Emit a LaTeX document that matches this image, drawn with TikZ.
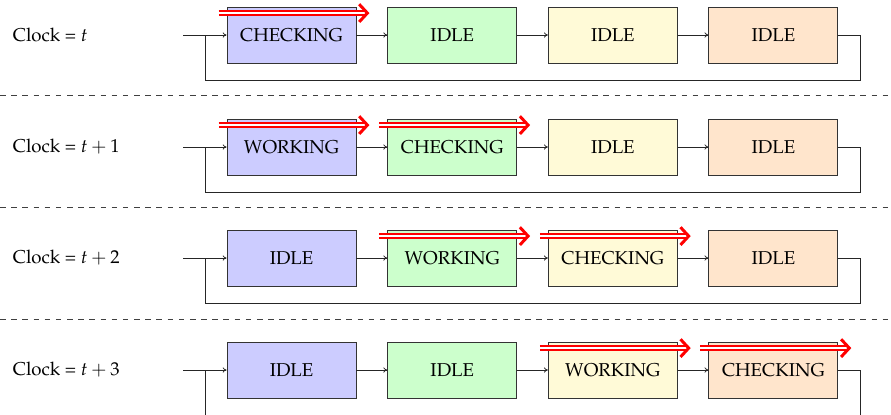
\documentclass[tikz,border=0pt]{standalone}
\usepackage[T1]{fontenc}
\usepackage{mathpazo}
\usetikzlibrary{arrows.meta}

% one unit of the drawing grid
\def\pxu{0.537pt}

\definecolor{stageA}{RGB}{204,204,255}
\definecolor{stageB}{RGB}{204,255,204}
\definecolor{stageC}{RGB}{255,250,215}
\definecolor{stageD}{RGB}{255,229,204}

\tikzset{
  stage/.style={draw=black!80, line width=0.45pt, minimum width=129*\pxu,
    minimum height=56*\pxu, inner sep=0pt},
  flow/.style={draw=black!85, line width=0.42pt, -{To[length=2.1pt,width=2.8pt]}},
  loopline/.style={draw=black!85, line width=0.42pt},
  token/.style={draw=red, double=white, line width=0.95pt, double distance=0.9pt,
    -{Straight Barb[length=4.4pt,width=9.5pt,line width=1.6pt]}},
  rowsep/.style={draw=black!75, dashed, line width=0.42pt},
  clocklabel/.style={anchor=west, inner sep=0pt},
}

\begin{document}
\begin{tikzpicture}[x=\pxu, y=-\pxu]
  \useasboundingbox (0,0) rectangle (891,414);
  \clip (0,0) rectangle (891,414);

  % separators between clock cycles
  \foreach \s/\yy in {1/95, 2/207, 3/319}
    \draw[rowsep] (0,\yy) coordinate (sepl\s) -- (891,\yy) coordinate (sepr\s);

  \foreach \r/\yy/\ta/\tb/\tc/\td/\clk/\marks in {
      1/35/CHECKING/IDLE/IDLE/IDLE/{$t$}/{1},
      2/147/WORKING/CHECKING/IDLE/IDLE/{$t+1$}/{1,2},
      3/258/IDLE/WORKING/CHECKING/IDLE/{$t+2$}/{2,3},
      4/370/IDLE/IDLE/WORKING/CHECKING/{$t+3$}/{3,4}} {
    \node[clocklabel] (clk\r) at (12.5,\yy) {Clock = \clk};

    \node[stage, fill=stageA] (b\r1) at (291.5,\yy) {\ta};
    \node[stage, fill=stageB] (b\r2) at (452.2,\yy) {\tb};
    \node[stage, fill=stageC] (b\r3) at (612.8,\yy) {\tc};
    \node[stage, fill=stageD] (b\r4) at (773.4,\yy) {\td};

    % input, pipeline links and feedback loop
    \coordinate (in\r) at (183,\yy);
    \coordinate (j\r) at (205.5,\yy);
    \draw[flow] (in\r) -- (b\r1.west);
    \draw[flow] (b\r1.east) -- (b\r2.west);
    \draw[flow] (b\r2.east) -- (b\r3.west);
    \draw[flow] (b\r3.east) -- (b\r4.west);
    \draw[loopline] (b\r4.east) -- ++(22,0) -- ++(0,45) -| (j\r);

    % tokens moving through the stages
    \foreach \m in \marks
      \draw[token] ([xshift=-8*\pxu, yshift=-6.5*\pxu]b\r\m.north west)
        -- ([xshift=13*\pxu, yshift=-6.5*\pxu]b\r\m.north east);
  }
\end{tikzpicture}
\end{document}
